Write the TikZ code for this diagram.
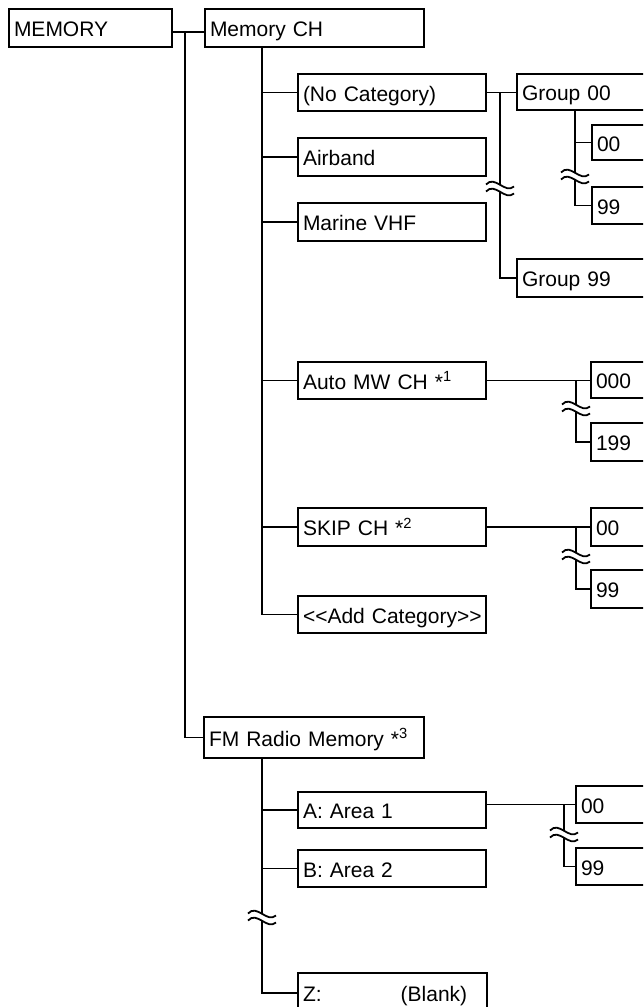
\documentclass[tikz,border=0pt]{standalone}
\usepackage{fontspec}
\setmainfont{Liberation Sans}
\begin{document}
\begin{tikzpicture}[x=1pt,y=-1pt,
  box/.style n args={2}{draw, line width=1.9pt, anchor=north west, outer sep=0pt,
    inner xsep=5pt, inner ysep=0pt, text width=#1, minimum height=#2, align=left,
    text height=20pt, text depth=2.6pt, font=\fontsize{21}{24}\selectfont},
  conn/.style={line width=1.9pt},
  brk/.pic={
    \fill[white] (-14,-4.5) .. controls (-5,-14.5) and (5,5.5) .. (14,-2.5)
      -- (14,4.5) .. controls (5,12.5) and (-5,-7.5) .. (-14,2.5) -- cycle;
    \draw[line width=1.8pt] (-14,-4.5) .. controls (-5,-14.5) and (5,5.5) .. (14,-2.5);
    \draw[line width=1.8pt] (-14,2.5) .. controls (-5,-7.5) and (5,12.5) .. (14,4.5);
  }]
\useasboundingbox (0,0) rectangle (643,1007);
\clip (0,0) rectangle (643,1007);

% level 0/1
\node[box={153pt}{38pt}] (mem) at (9,9) {MEMORY};
\node[box={209pt}{38pt}] (mch) at (205,9) {\mbox{Memory CH}};
\node[box={210pt}{41pt}] (fm) at (204,717) {\mbox{FM Radio Memory *\textsuperscript{3}}};

% level 2
\node[box={178pt}{37pt}] (nocat) at (298,74) {\mbox{(No Category)}};
\node[box={178pt}{38pt}] (air) at (298,138) {Airband};
\node[box={178pt}{38pt}] (mar) at (298,203) {\mbox{Marine VHF}};
\node[box={178pt}{37pt}] (amw) at (298,362) {\mbox{Auto MW CH *\textsuperscript{1}}};
\node[box={178pt}{38pt}] (skip) at (298,508) {\mbox{SKIP CH *\textsuperscript{2}}};
\node[box={178pt}{37pt}] (add) at (298,596) {\mbox{<{}<Add Category>{}>}};
\node[box={178pt}{36pt}] (fa) at (298,792) {\mbox{A: Area 1}};
\node[box={178pt}{37pt}] (fb) at (298,850) {\mbox{B: Area 2}};
\node[box={179pt}{40pt}] (fz) at (298,973) {\mbox{Z:\hspace{79pt}(Blank)}};

% level 3
\node[box={140pt}{36pt}] (g00) at (517,74) {\mbox{Group 00}};
\node[box={140pt}{38pt}] (g99) at (517,259) {\mbox{Group 99}};

% level 4
\node[box={70pt}{35pt}] (n00) at (592,125) {00};
\node[box={70pt}{37pt}] (n99) at (592,187) {99};
\node[box={70pt}{36pt}] (a000) at (591,362) {000};
\node[box={70pt}{38pt}] (a199) at (591,423) {199};
\node[box={70pt}{38pt}] (s00) at (591,508) {00};
\node[box={70pt}{38pt}] (s99) at (591,570) {99};
\node[box={70pt}{37pt}] (f00) at (576,786) {00};
\node[box={70pt}{37pt}] (f99) at (576,848) {99};

% MEMORY trunk
\coordinate (tA) at (185,32);
\draw[conn] (mem.east |- tA) -- (mch.west |- tA);
\draw[conn] (tA) |- (fm.west);

% Memory CH trunk
\coordinate (tB) at (262,0);
\draw[conn] (mch.south -| tB) |- (add.west);
\foreach \n in {nocat,air,mar,amw,skip}
  \draw[conn] (tB |- \n.west) -- (\n.west);

% No Category -> groups
\coordinate (jC) at (500,0);
\draw[conn] (nocat.east) -- (nocat.east -| g00.west);
\draw[conn] (jC |- nocat.east) |- (g99.west);

% Group 00 -> channels
\coordinate (tG) at (575,0);
\draw[conn] (g00.south -| tG) |- (n99.west);
\draw[conn] (tG |- n00.west) -- (n00.west);

% Auto MW CH -> channels
\coordinate (jA) at (576,0);
\draw[conn] (amw.east) -- (amw.east -| a000.west);
\draw[conn] (jA |- amw.east) |- (a199.west);

% SKIP CH -> channels
\coordinate (jS) at (576,0);
\draw[conn] (skip.east) -- (skip.east -| s00.west);
\draw[conn] (jS |- skip.east) |- (s99.west);

% FM trunk
\coordinate (tF) at (262,0);
\draw[conn] (fm.south -| tF) |- (fz.west);
\foreach \n in {fa,fb}
  \draw[conn] (tF |- \n.west) -- (\n.west);

% Area 1 -> channels
\coordinate (jF) at (564,0);
\draw[conn] (fa.east |- f00.west) -- (f00.west);
\draw[conn] (jF |- f00.west) |- (f99.west);

% break marks
\pic at (500,189) {brk};
\pic at (575,177) {brk};
\pic at (576,409) {brk};
\pic at (576,557) {brk};
\pic at (564,835) {brk};
\pic at (262,918) {brk};
\end{tikzpicture}
\end{document}
